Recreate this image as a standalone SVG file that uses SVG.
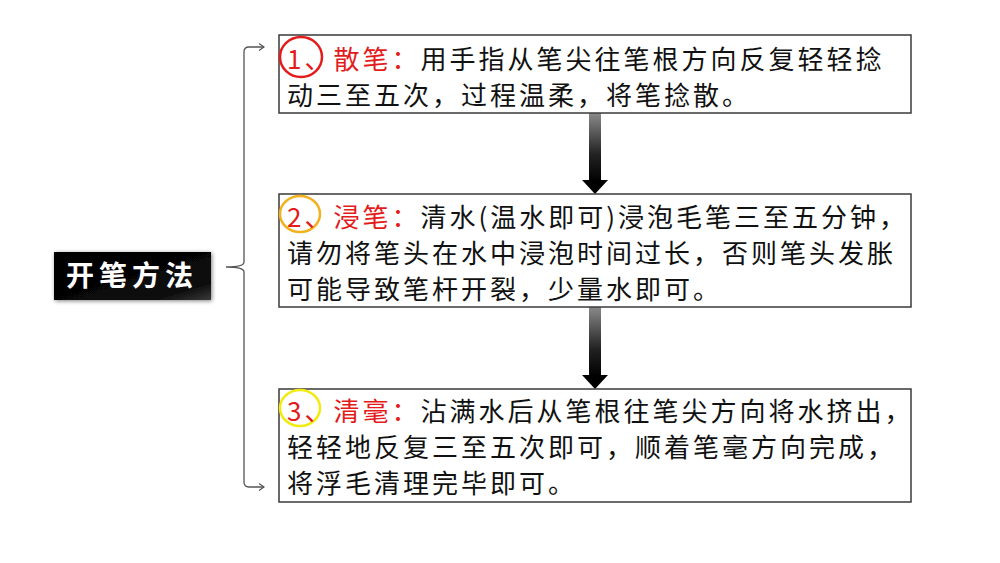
<svg xmlns="http://www.w3.org/2000/svg" width="1000" height="563" viewBox="0 0 1000 563">
<style>
.box{fill:#fff;stroke:#3a3a3a;stroke-width:1.5}
.t{font-family:"Noto Sans CJK SC","Noto Sans",sans-serif;font-size:26px;letter-spacing:3px;fill:#111}
.r{fill:#e31b1b}
.brk{fill:none;stroke:#555;stroke-width:1.3}
.lbl{font-family:"Noto Sans CJK SC",sans-serif;font-size:28px;font-weight:bold;letter-spacing:5px;fill:#fff}
.c{fill:none;stroke-width:2.5}
</style>
<defs>
<linearGradient id="shaft" x1="0" y1="0" x2="0" y2="1">
<stop offset="0" stop-color="#8a8a8a"/>
<stop offset="0.6" stop-color="#222"/>
<stop offset="1" stop-color="#000"/>
</linearGradient>
<linearGradient id="lblg" x1="0" y1="0" x2="1" y2="1">
<stop offset="0" stop-color="#000"/>
<stop offset="0.8" stop-color="#0a0a0a"/>
<stop offset="1" stop-color="#3a3a3a"/>
</linearGradient>
<filter id="sh" x="-10%" y="-20%" width="120%" height="140%">
<feGaussianBlur in="SourceAlpha" stdDeviation="2"/>
<feOffset dx="1" dy="1"/>
<feComponentTransfer><feFuncA type="linear" slope="0.5"/></feComponentTransfer>
<feMerge><feMergeNode/><feMergeNode in="SourceGraphic"/></feMerge>
</filter>
<marker id="oa" markerWidth="10" markerHeight="10" refX="8" refY="5" orient="auto" markerUnits="userSpaceOnUse">
<polyline points="3,1.5 8,5 3,8.5" fill="none" stroke="#555" stroke-width="1.2"/>
</marker>
</defs>
<rect width="1000" height="563" fill="#fff"/>

<g id="connectors">
<path class="brk" d="M244 262 L244 52 Q244 47 249 47 L264 47" marker-end="url(#oa)"/>
<path class="brk" d="M244 262 Q244 267 226 267 Q244 267 244 272 L244 482 Q244 487 249 487 L264 487" marker-end="url(#oa)"/>
<g id="arrow1">
<rect x="589" y="113" width="12" height="69" fill="url(#shaft)"/>
<polygon points="582,180 608,180 595,194" fill="#000"/>
</g>
<g id="arrow2">
<rect x="589" y="307" width="12" height="70" fill="url(#shaft)"/>
<polygon points="582,375 608,375 595,389" fill="#000"/>
</g>
</g>

<g id="label">
<rect x="54" y="252" width="157" height="48" fill="url(#lblg)" filter="url(#sh)"/>
<text class="lbl" x="132" y="286" text-anchor="middle">开笔方法</text>
</g>

<g id="step1">
<rect class="box" x="279" y="35" width="632" height="78"/>
<ellipse class="c" cx="301" cy="57" rx="21" ry="20" stroke="#e31b1b"/>
<text class="t" x="287" y="69"><tspan class="r">1、散笔：</tspan>用手指从笔尖往笔根方向反复轻轻捻</text>
<text class="t" x="287" y="105">动三至五次，过程温柔，将笔捻散。</text>
</g>

<g id="step2">
<rect class="box" x="279" y="194" width="632" height="113"/>
<ellipse class="c" cx="300" cy="214" rx="20" ry="18" stroke="#f2b11f"/>
<text class="t" x="287" y="227"><tspan class="r">2、浸笔：</tspan>清水(温水即可)浸泡毛笔三至五分钟，</text>
<text class="t" x="287" y="263">请勿将笔头在水中浸泡时间过长，否则笔头发胀</text>
<text class="t" x="287" y="299">可能导致笔杆开裂，少量水即可。</text>
</g>

<g id="step3">
<rect class="box" x="279" y="389" width="632" height="113"/>
<ellipse class="c" cx="300" cy="408" rx="20" ry="18" stroke="#f2ea10"/>
<text class="t" x="287" y="421"><tspan class="r">3、清毫：</tspan>沾满水后从笔根往笔尖方向将水挤出，</text>
<text class="t" x="287" y="457">轻轻地反复三至五次即可，顺着笔毫方向完成，</text>
<text class="t" x="287" y="493">将浮毛清理完毕即可。</text>
</g>
</svg>
